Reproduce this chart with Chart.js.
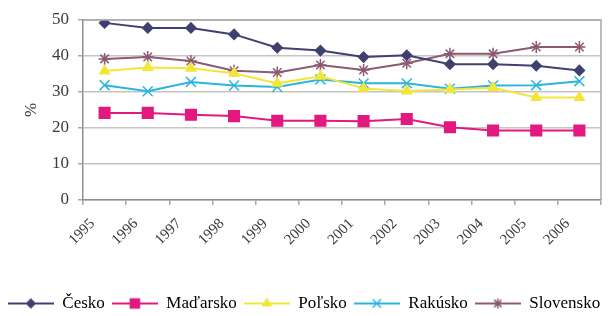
<!DOCTYPE html>
<html>
<head>
<meta charset="utf-8">
<script src="https://cdn.jsdelivr.net/npm/chart.js@4/dist/chart.umd.min.js"></script>
<style>
  html, body { margin: 0; padding: 0; background: #fff; }
  #wrap { width: 610px; height: 316px; }
</style>
</head>
<body>
<div id="wrap"><canvas id="chart"></canvas></div>
<script>
const years = ['1995', '1996', '1997', '1998', '1999', '2000', '2001', '2002', '2003', '2004', '2005', '2006'];
const cesko = [49.2, 47.8, 47.8, 46.0, 42.3, 41.5, 39.7, 40.2, 37.7, 37.7, 37.3, 36.0];
const madarsko = [24.2, 24.2, 23.7, 23.3, 22.0, 22.0, 21.9, 22.5, 20.2, 19.3, 19.3, 19.3];
const polsko = [35.8, 36.8, 36.6, 35.2, 32.4, 34.4, 31.0, 30.3, 30.7, 31.2, 28.5, 28.5];
const rakusko = [31.9, 30.2, 32.8, 31.8, 31.4, 33.5, 32.4, 32.4, 30.9, 31.8, 31.9, 33.0];
const slovensko = [39.2, 39.7, 38.6, 35.9, 35.4, 37.5, 36.1, 38.0, 40.6, 40.6, 42.5, 42.5];

const seriesNames = ['Česko', 'Maďarsko', 'Poľsko', 'Rakúsko', 'Slovensko'];
const seriesData = [cesko, madarsko, polsko, rakusko, slovensko];
const seriesColors = ['#404070', '#e2197f', '#f3e638', '#2ab4e2', '#8c5a72'];
const seriesPoints = ['rectRot', 'rect', 'triangle', 'crossRot', 'star'];
const pointRadius = [5, 7.5, 5.5, 7, 6];

const fontFamily = "'Liberation Serif', 'Times New Roman', serif";
const textColor = '#3a3a3a';

// small line+marker picture for the legend
function legendIcon(i) {
  const c = document.createElement('canvas');
  c.width = 46;
  c.height = 16;
  const ctx = c.getContext('2d');
  ctx.strokeStyle = seriesColors[i];
  ctx.fillStyle = seriesColors[i];
  ctx.lineWidth = 2;
  ctx.beginPath();
  ctx.moveTo(0, 8);
  ctx.lineTo(46, 8);
  ctx.stroke();
  ctx.lineWidth = 1.5;
  Chart.helpers.drawPoint(ctx, {
    pointStyle: seriesPoints[i],
    radius: pointRadius[i] * 0.85,
    rotation: 0,
    borderWidth: 1.5
  }, 23, 8);
  return c;
}

const frame = {
  id: 'frame',
  afterDraw(chart) {
    const a = chart.chartArea;
    const ctx = chart.ctx;
    ctx.save();
    ctx.strokeStyle = '#a8a8a8';
    ctx.lineWidth = 1.5;
    ctx.beginPath();
    ctx.moveTo(a.left, a.top);
    ctx.lineTo(a.right, a.top);
    ctx.lineTo(a.right, a.bottom);
    ctx.stroke();
    ctx.restore();
  }
};

const datasets = seriesNames.map((name, i) => ({
  label: name,
  data: seriesData[i],
  borderColor: seriesColors[i],
  backgroundColor: seriesColors[i],
  pointStyle: seriesPoints[i],
  pointRadius: pointRadius[i],
  pointBorderWidth: 1.5,
  borderWidth: 2,
  tension: 0
}));

new Chart(document.getElementById('chart'), {
  type: 'line',
  data: { labels: years, datasets },
  plugins: [frame],
  options: {
    responsive: true,
    maintainAspectRatio: false,
    animation: false,
    layout: { padding: { top: 20, right: 2, left: 0, bottom: -6 } },
    plugins: {
      tooltip: { enabled: false },
      legend: {
        position: 'bottom',
        labels: {
          usePointStyle: true,
          pointStyleWidth: 46,
          padding: 7,
          color: textColor,
          font: { family: fontFamily, size: 17 },
          generateLabels(chart) {
            return seriesNames.map((name, i) => ({
              text: name,
              pointStyle: legendIcon(i),
              fillStyle: seriesColors[i],
              strokeStyle: seriesColors[i],
              lineWidth: 0,
              hidden: false,
              datasetIndex: i
            }));
          }
        }
      }
    },
    scales: {
      x: {
        offset: true,
        grid: {
          display: true,
          drawOnChartArea: false,
          offset: true,
          tickLength: 5,
          tickColor: '#a8a8a8',
          lineWidth: 1.5
        },
        border: { color: '#8f8f8f', width: 1.5 },
        ticks: {
          color: textColor,
          font: { family: fontFamily, size: 15 },
          maxRotation: 45,
          minRotation: 45,
          labelOffset: -12,
          padding: 10
        },
        afterFit(scale) { scale.height = 88; }
      },
      y: {
        min: 0,
        max: 50,
        ticks: {
          stepSize: 10,
          color: textColor,
          font: { family: fontFamily, size: 17 },
          padding: 9
        },
        grid: {
          color: '#c4c4c4',
          lineWidth: 1.5,
          tickLength: 5,
          tickColor: '#a8a8a8'
        },
        border: { color: '#8f8f8f', width: 1.5 },
        title: {
          display: true,
          text: '%',
          color: textColor,
          font: { family: fontFamily, size: 17 },
          padding: { top: 21, bottom: 0 }
        },
        afterFit(scale) { scale.width = 83; }
      }
    }
  }
});
</script>
</body>
</html>
